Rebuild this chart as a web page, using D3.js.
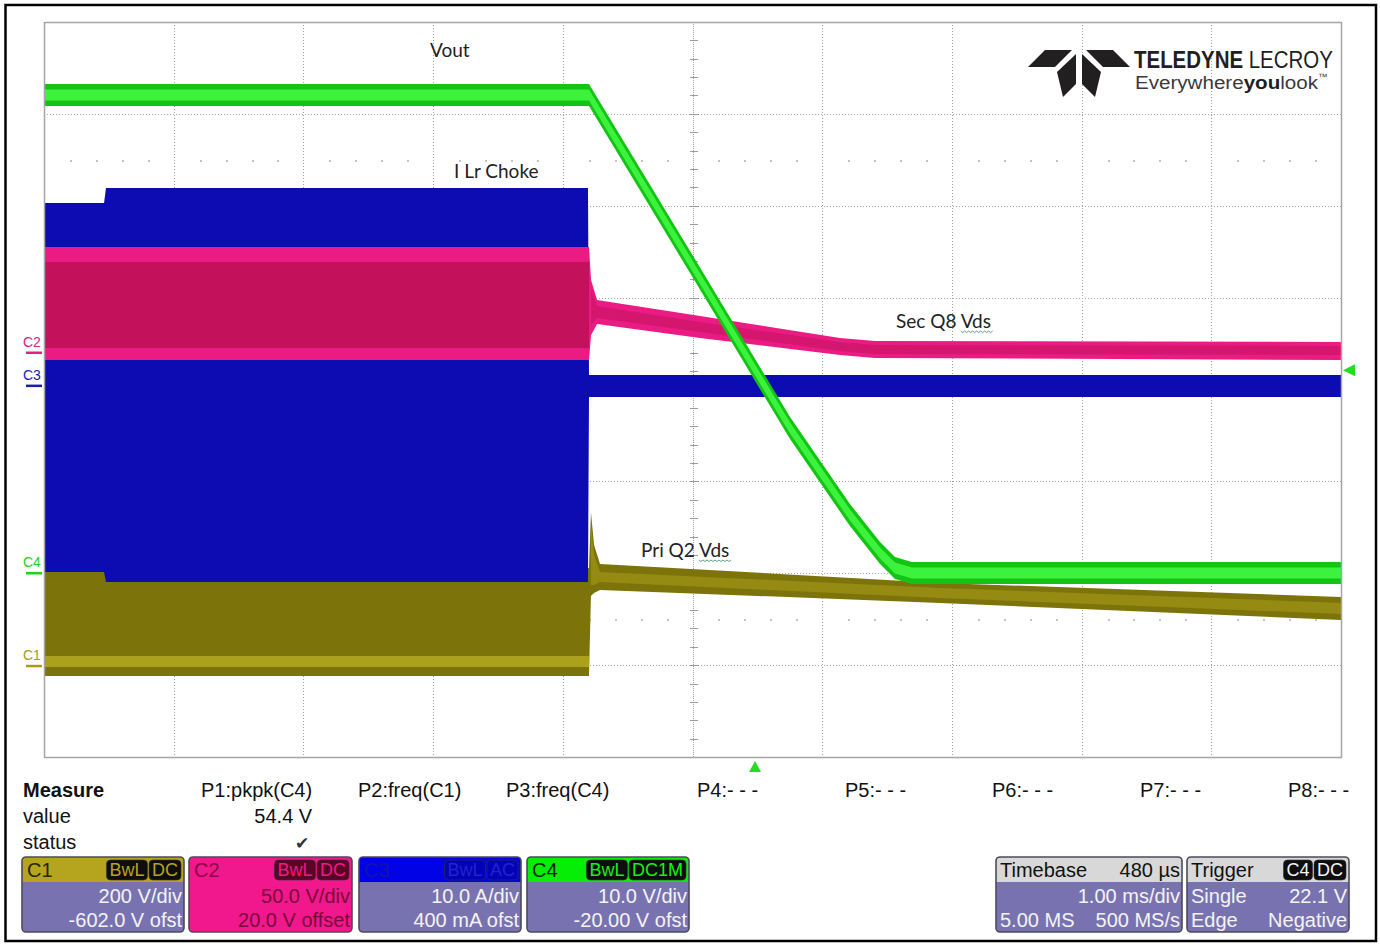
<!DOCTYPE html>
<html>
<head>
<meta charset="utf-8">
<script src="https://cdn.jsdelivr.net/npm/d3@7"></script>
<style>
  body { margin: 0; background: #ffffff; }
  svg { display: block; }
</style>
</head>
<body>
<svg id="scope" width="1380" height="945"></svg>
<script>
// ---------------------------------------------------------------
// Acquisition settings
// ---------------------------------------------------------------
const timeRangeMs = [-5.482, 4.518];          // 10 div x 1.00 ms/div, trigger at 0
const channelNames = ["C1", "C2", "C3", "C4"];
const voltsPerDiv = [200, 50, 10, 10];
const channelOffsets = [-602, 20, 0.4, -20];
const channelScaleLabels = ["200 V/div", "50.0 V/div", "10.0 A/div", "10.0 V/div"];
const channelOffsetLabels = ["-602.0 V ofst", "20.0 V offset", "400 mA ofst", "-20.00 V ofst"];
const channelCoupling = [["BwL", "DC"], ["BwL", "DC"], ["BwL", "AC"], ["BwL", "DC1M"]];
const triggerTimeMs = 0;
const triggerLevelV = 22.1;

// ---------------------------------------------------------------
// Waveform envelopes (channel units), read along time in ms
// ---------------------------------------------------------------
// C1 : Pri Q2 Vds (V)
const c1Time       = [-5.482, -1.280, -1.265, -1.241, -1.195, 1.426, 4.518];
const c1Upper      = [213.6, 213.6, 335.5, 263.6, 222.3, 180.9, 150.4];
const c1Lower      = [-21.6, -21.6, 152.6, 159.1, 165.7, 137.4, 100.4];
const c1DenseUpper = [22.0, 22.0, 307.0, 241.8, 204.7, 170.0, 137.4];
const c1DenseLower = [-2.0, -2.0, 176.4, 176.4, 182.9, 148.3, 113.4];

// C2 : Sec Q8 Vds (V)
const c2Time       = [-5.482, -1.280, -1.264, -1.218, -0.424, 0.655, 0.925, 4.518];
const c2Upper      = [57.55, 57.55, 39.59, 28.71, 20.00, 8.03, 6.39, 5.85];
const c2Lower      = [-3.95, -3.95, 9.66, 15.65, 8.03, -1.22, -2.86, -3.95];
const c2DenseUpper = [49.40, 49.40, 34.10, 25.44, 16.73, 5.85, 4.22, 3.67];
const c2DenseLower = [2.59, 2.59, 15.10, 18.91, 11.29, 0.95, -0.68, -1.22];

// C3 : I Lr Choke (A)
const c3Time  = [-5.482, -5.019, -5.004, -1.288, -1.280, 4.518];
const c3Upper = [19.90, 19.90, 21.53, 21.53, 1.18, 1.18];
const c3Lower = [-20.27, -20.27, -21.35, -21.35, -1.22, -1.22];

// C4 : Vout (V)
const c4Time       = [-5.482, -1.280, -0.501, 0.270, 0.732, 0.964, 1.079, 1.210, 4.518];
const c4Upper      = [53.25, 53.25, 35.08, 17.01, 7.54, 3.40, 1.77, 1.23, 1.23];
const c4Lower      = [50.85, 50.85, 32.68, 14.61, 5.14, 1.00, -0.63, -1.17, -1.17];
const c4DenseUpper = [52.65, 52.65, 34.48, 16.41, 6.94, 2.80, 1.17, 0.63, 0.63];
const c4DenseLower = [51.45, 51.45, 33.28, 15.21, 5.74, 1.60, -0.03, -0.57, -0.57];

// Measurement table
const measureSlots = ["P1:pkpk(C4)", "P2:freq(C1)", "P3:freq(C4)", "P4:- - -", "P5:- - -", "P6:- - -", "P7:- - -", "P8:- - -"];
const measureValues = ["54.4 V", "", "", "", "", "", "", ""];
const measureStatus = ["\u2714", "", "", "", "", "", "", ""];

// Timebase / trigger readouts
const timebaseDelay = "480 \u00b5s";
const timebaseScale = "1.00 ms/div";
const timebaseSamples = ["5.00 MS", "500 MS/s"];
const triggerInfo = [["Single", "22.1 V"], ["Edge", "Negative"]];

// Trace annotations
const traceNotes = ["Vout", "I Lr Choke", "Sec Q8 Vds", "Pri Q2 Vds"];

// ---------------------------------------------------------------
const svg = d3.select("#scope");
const plot = { left: 44, right: 1341, top: 22, bottom: 757 };

const x = d3.scaleLinear().domain(timeRangeMs).range([plot.left, plot.right]);
const yDiv = d3.scaleLinear().domain([-4, 4]).range([plot.bottom, plot.top]);
const yCh = voltsPerDiv.map((v, i) =>
  d3.scaleLinear()
    .domain([-4 * v - channelOffsets[i], 4 * v - channelOffsets[i]])
    .range([plot.bottom, plot.top]));

const traceColors = [
  { env: "#7c740b", dense: "#aca11c", core: "#958b13", label: "#a89c14" },
  { env: "#ea1c84", dense: "#c3115c", core: "#d5166e", label: "#e0207c" },
  { env: "#0c0cb2", dense: "#0c0cb2", core: "#0c0cb2", label: "#1c1ca8" },
  { env: "#14c414", dense: "#3cf23c", core: "#3cf23c", label: "#22d022" }
];

// outer frame
svg.append("rect")
  .attr("x", 5.5).attr("y", 5).attr("width", 1370.5).attr("height", 936)
  .attr("fill", "#fff").attr("stroke", "#000").attr("stroke-width", 2.5);

// ---------------------------------------------------------------
// Graticule
// ---------------------------------------------------------------
const grid = svg.append("g").attr("shape-rendering", "crispEdges");
const vLines = d3.range(1, 10).map(i => timeRangeMs[0] + i);
const hLines = d3.range(-3, 4);

grid.selectAll(".vg").data(vLines.filter((d, i) => i !== 4)).join("line")
  .attr("x1", d => Math.round(x(d)) + 0.5).attr("x2", d => Math.round(x(d)) + 0.5)
  .attr("y1", plot.top).attr("y2", plot.bottom)
  .attr("stroke", "#a0a0a0").attr("stroke-dasharray", "1 2");
grid.selectAll(".hg").data(hLines.filter(d => d !== 0)).join("line")
  .attr("y1", d => Math.round(yDiv(d)) + 0.5).attr("y2", d => Math.round(yDiv(d)) + 0.5)
  .attr("x1", plot.left).attr("x2", plot.right)
  .attr("stroke", "#a0a0a0").attr("stroke-dasharray", "1 2");

// dotted guide rows at +/-2.5 div
const subX = d3.range(0, 51).filter(i => i % 5 !== 0).map(i => timeRangeMs[0] + i / 5);
[2.5, -2.5].forEach(r => {
  grid.selectAll(null).data(subX).join("rect")
    .attr("x", d => Math.round(x(d))).attr("y", Math.round(yDiv(r)))
    .attr("width", 2).attr("height", 2).attr("fill", "#c4c4c4");
});

// centre axes with minor ticks
const cx = Math.round(x(timeRangeMs[0] + 5)) + 0.5;
const cy = Math.round(yDiv(0)) + 0.5;
grid.append("line").attr("x1", cx).attr("x2", cx).attr("y1", plot.top).attr("y2", plot.bottom)
  .attr("stroke", "#a0a0a0").attr("stroke-dasharray", "1 1");
grid.append("line").attr("y1", cy).attr("y2", cy).attr("x1", plot.left).attr("x2", plot.right)
  .attr("stroke", "#a0a0a0").attr("stroke-dasharray", "1 1");
grid.selectAll(".ty").data(d3.range(-20, 21).map(i => i / 5)).join("line")
  .attr("x1", cx - 4).attr("x2", cx + 4)
  .attr("y1", d => Math.round(yDiv(d)) + 0.5).attr("y2", d => Math.round(yDiv(d)) + 0.5)
  .attr("stroke", "#9a9a9a");
grid.selectAll(".tx").data(d3.range(0, 51).map(i => timeRangeMs[0] + i / 5)).join("line")
  .attr("y1", cy - 4).attr("y2", cy + 4)
  .attr("x1", d => Math.round(x(d)) + 0.5).attr("x2", d => Math.round(x(d)) + 0.5)
  .attr("stroke", "#9a9a9a");

// ---------------------------------------------------------------
// Traces
// ---------------------------------------------------------------
const traces = svg.append("g");
function band(time, up, lo, ys, color, from, to) {
  const pts = time.map((t, i) => ({ t, u: up[i], l: lo[i] }))
    .slice(from || 0, to === undefined ? time.length : to);
  const area = d3.area()
    .x(d => x(d.t)).y0(d => ys(d.l)).y1(d => ys(d.u))
    .curve(d3.curveLinear);
  traces.append("path").datum(pts).attr("d", area).attr("fill", color);
}

// C1 first, C3 over it, then C2, C4 on top
band(c1Time, c1Upper, c1Lower, yCh[0], traceColors[0].env);
band(c1Time, c1DenseUpper, c1DenseLower, yCh[0], traceColors[0].dense, 0, 2);
band(c1Time, c1DenseUpper, c1DenseLower, yCh[0], traceColors[0].core, 2);
band(c3Time, c3Upper, c3Lower, yCh[2], traceColors[2].env);
band(c2Time, c2Upper, c2Lower, yCh[1], traceColors[1].env);
band(c2Time, c2DenseUpper, c2DenseLower, yCh[1], traceColors[1].dense, 0, 2);
band(c2Time, c2DenseUpper, c2DenseLower, yCh[1], traceColors[1].core, 2);
band(c4Time, c4Upper, c4Lower, yCh[3], traceColors[3].env);
band(c4Time, c4DenseUpper, c4DenseLower, yCh[3], traceColors[3].dense);

// graticule border
svg.append("rect")
  .attr("x", plot.left + 0.5).attr("y", plot.top + 0.5)
  .attr("width", plot.right - plot.left).attr("height", plot.bottom - plot.top)
  .attr("fill", "none").attr("stroke", "#a4a4a4").attr("stroke-width", 1.5);

// channel ground markers at the left edge
channelNames.forEach((name, i) => {
  const y0 = yCh[i](0);
  const c = traceColors[i].label;
  svg.append("text").attr("x", 23).attr("y", y0 - 6)
    .attr("font-family", "Liberation Sans, Arial, sans-serif").attr("font-size", 14)
    .attr("fill", c).text(name);
  svg.append("line").attr("x1", 26).attr("x2", 42).attr("y1", y0).attr("y2", y0)
    .attr("stroke", c).attr("stroke-width", 2.5);
});

// trigger level and trigger time markers (C4)
const trigY = yCh[3](triggerLevelV);
svg.append("path")
  .attr("d", `M1343,${trigY} L1355,${trigY - 6} L1355,${trigY + 6} Z`)
  .attr("fill", "#22dd22");
const trigX = x(triggerTimeMs);
svg.append("path")
  .attr("d", `M${trigX},761 L${trigX - 6},772 L${trigX + 6},772 Z`)
  .attr("fill", "#22dd22");

// ---------------------------------------------------------------
// Trace annotations
// ---------------------------------------------------------------
const notePos = [[430, 57], [454, 178], [896, 328], [641, 557]];
traceNotes.forEach((t, i) => {
  const el = svg.append("text")
    .attr("x", notePos[i][0]).attr("y", notePos[i][1])
    .attr("font-family", "Lato, 'Open Sans', sans-serif").attr("font-size", 19)
    .attr("fill", "#222").text(t);
  const k = t.indexOf("Vds");
  if (k >= 0) {
    const node = el.node();
    const sx = node.getStartPositionOfChar(k).x;
    const w = node.getSubStringLength(k, 3);
    const yb = notePos[i][1] + 3;
    let d = `M${sx},${yb}`;
    for (let p = sx; p < sx + w - 2; p += 4) d += ` l2,1.5 l2,-1.5`;
    svg.append("path").attr("d", d).attr("fill", "none")
      .attr("stroke", "#3a8a6a").attr("stroke-width", 0.8);
  }
});

// ---------------------------------------------------------------
// Logo
// ---------------------------------------------------------------
const logo = svg.append("g").attr("fill", "#221f20");
const logoShapes = [
  [[1045, 50], [1072, 50], [1055, 67], [1028, 67]],
  [[1086, 50], [1113, 50], [1130, 67], [1103, 67]],
  [[1057, 72], [1076, 54], [1076, 84], [1063, 97]],
  [[1101, 72], [1082, 54], [1082, 84], [1095, 97]]
];
logo.selectAll("polygon").data(logoShapes).join("polygon")
  .attr("points", d => d.map(p => p.join(",")).join(" "));

// fit a text element horizontally into [x0, x1] at baseline y
function fitText(sel, x0, x1, y) {
  const w = sel.node().getComputedTextLength();
  sel.attr("x", 0).attr("y", 0)
    .attr("transform", `translate(${x0},${y}) scale(${(x1 - x0) / w},1)`);
}
const brand = logo.append("text")
  .attr("font-family", "Liberation Sans, Arial, sans-serif").attr("font-size", 23);
brand.append("tspan").attr("font-weight", "bold").text("TELEDYNE");
brand.append("tspan").text(" LECROY");
fitText(brand, 1134, 1333, 68);

const tag = svg.append("text")
  .attr("font-family", "Liberation Sans, Arial, sans-serif")
  .attr("font-size", 19).attr("fill", "#3a3a3a");
tag.append("tspan").text("Everywhere");
tag.append("tspan").attr("font-weight", "bold").attr("fill", "#1e1e1e").text("you");
tag.append("tspan").text("look");
tag.append("tspan").attr("font-size", 9).attr("dy", -9).text("\u2122");
fitText(tag, 1135, 1328, 89);

// ---------------------------------------------------------------
// Measurement table
// ---------------------------------------------------------------
const font = "Liberation Sans, Arial, sans-serif";
const meas = svg.append("g").attr("font-family", font).attr("font-size", 20).attr("fill", "#111");
meas.append("text").attr("x", 23).attr("y", 797).attr("font-weight", "bold").text("Measure");
meas.append("text").attr("x", 23).attr("y", 823).text("value");
meas.append("text").attr("x", 23).attr("y", 849).text("status");
const slotX = [201, 358, 506, 697, 845, 992, 1140, 1288];
measureSlots.forEach((s, i) => {
  const t = meas.append("text").attr("x", slotX[i]).attr("y", 797).text(s);
  const right = slotX[i] + t.node().getComputedTextLength();
  if (measureValues[i]) {
    meas.append("text").attr("x", right).attr("y", 823).attr("text-anchor", "end").text(measureValues[i]);
  }
  if (measureStatus[i]) {
    meas.append("text").attr("x", right - 3).attr("y", 849).attr("text-anchor", "end")
      .attr("font-family", "DejaVu Sans").attr("font-size", 17).attr("fill", "#333")
      .text(measureStatus[i]);
  }
});

// ---------------------------------------------------------------
// Channel descriptor boxes
// ---------------------------------------------------------------
const boxTop = 857, boxH = 75, headH = 25;
const bodyFill = "#7873b0";
const boxStyles = [
  { x: 22,  w: 162, head: "#b5a51e", body: bodyFill, title: "#2a2400", badge: "#0e0e0e", badgeText: "#b5a51e", text: "#f4f4f4" },
  { x: 189, w: 163, head: "#f0188c", body: "#f0188c", title: "#8a0a44", badge: "#5a0426", badgeText: "#f0188c", text: "#7a0838" },
  { x: 359, w: 162, head: "#0202e6", body: bodyFill, title: "#1414a8", badge: "#0202b8", badgeText: "#2424c8", text: "#f4f4f4" },
  { x: 527, w: 162, head: "#06ee06", body: bodyFill, title: "#062206", badge: "#0e0e0e", badgeText: "#18f018", text: "#f4f4f4" }
];

function boxFrame(bx, w, head, body) {
  const g = svg.append("g");
  g.append("rect").attr("x", bx).attr("y", boxTop).attr("width", w).attr("height", boxH)
    .attr("rx", 4).attr("fill", body);
  g.append("path")
    .attr("d", `M${bx},${boxTop + headH} V${boxTop + 4} a4,4 0 0 1 4,-4 H${bx + w - 4} a4,4 0 0 1 4,4 V${boxTop + headH} Z`)
    .attr("fill", head);
  g.append("rect").attr("x", bx).attr("y", boxTop).attr("width", w).attr("height", boxH)
    .attr("rx", 4).attr("fill", "none").attr("stroke", "#4c4a5c").attr("stroke-width", 1.6);
  return g;
}

function badges(g, labels, rightX, fill, color) {
  let r = rightX;
  labels.slice().reverse().forEach(lbl => {
    const t = g.append("text").attr("y", boxTop + 19).attr("font-family", font)
      .attr("font-size", 18).attr("fill", color).text(lbl);
    const w = t.node().getComputedTextLength() + 6;
    g.insert("rect", "text").attr("x", r - w).attr("y", boxTop + 3).attr("width", w).attr("height", 20)
      .attr("rx", 4).attr("fill", fill).attr("stroke", "#333").attr("stroke-width", 0.6);
    t.attr("x", r - w + 3);
    r -= w + 1.5;
  });
}

channelNames.forEach((name, i) => {
  const s = boxStyles[i];
  const g = boxFrame(s.x, s.w, s.head, s.body);
  g.append("text").attr("x", s.x + 5).attr("y", boxTop + 20).attr("font-family", font)
    .attr("font-size", 20).attr("fill", s.title).text(name);
  badges(g, channelCoupling[i], s.x + s.w - 3, s.badge, s.badgeText);
  g.append("text").attr("x", s.x + s.w - 2).attr("y", boxTop + 46).attr("text-anchor", "end")
    .attr("font-family", font).attr("font-size", 20).attr("fill", s.text).text(channelScaleLabels[i]);
  g.append("text").attr("x", s.x + s.w - 2).attr("y", boxTop + 70).attr("text-anchor", "end")
    .attr("font-family", font).attr("font-size", 20).attr("fill", s.text).text(channelOffsetLabels[i]);
});

// timebase box
{
  const bx = 996, w = 186;
  const g = boxFrame(bx, w, "#d8d8d8", bodyFill);
  const tt = (xx, yy, txt, anchor, col) => g.append("text").attr("x", xx).attr("y", yy)
    .attr("text-anchor", anchor).attr("font-family", font).attr("font-size", 20).attr("fill", col).text(txt);
  tt(bx + 4, boxTop + 20, "Timebase", "start", "#111");
  tt(bx + w - 2, boxTop + 20, timebaseDelay, "end", "#111");
  tt(bx + w - 2, boxTop + 46, timebaseScale, "end", "#f4f4f4");
  tt(bx + 4, boxTop + 70, timebaseSamples[0], "start", "#f4f4f4");
  tt(bx + w - 2, boxTop + 70, timebaseSamples[1], "end", "#f4f4f4");
}
// trigger box
{
  const bx = 1187, w = 162;
  const g = boxFrame(bx, w, "#d8d8d8", bodyFill);
  const tt = (xx, yy, txt, anchor, col) => g.append("text").attr("x", xx).attr("y", yy)
    .attr("text-anchor", anchor).attr("font-family", font).attr("font-size", 20).attr("fill", col).text(txt);
  tt(bx + 4, boxTop + 20, "Trigger", "start", "#111");
  badges(g, ["C4", "DC"], bx + w - 3, "#0e0e0e", "#f4f4f4");
  tt(bx + 4, boxTop + 46, triggerInfo[0][0], "start", "#f4f4f4");
  tt(bx + w - 2, boxTop + 46, triggerInfo[0][1], "end", "#f4f4f4");
  tt(bx + 4, boxTop + 70, triggerInfo[1][0], "start", "#f4f4f4");
  tt(bx + w - 2, boxTop + 70, triggerInfo[1][1], "end", "#f4f4f4");
}
</script>
</body>
</html>
